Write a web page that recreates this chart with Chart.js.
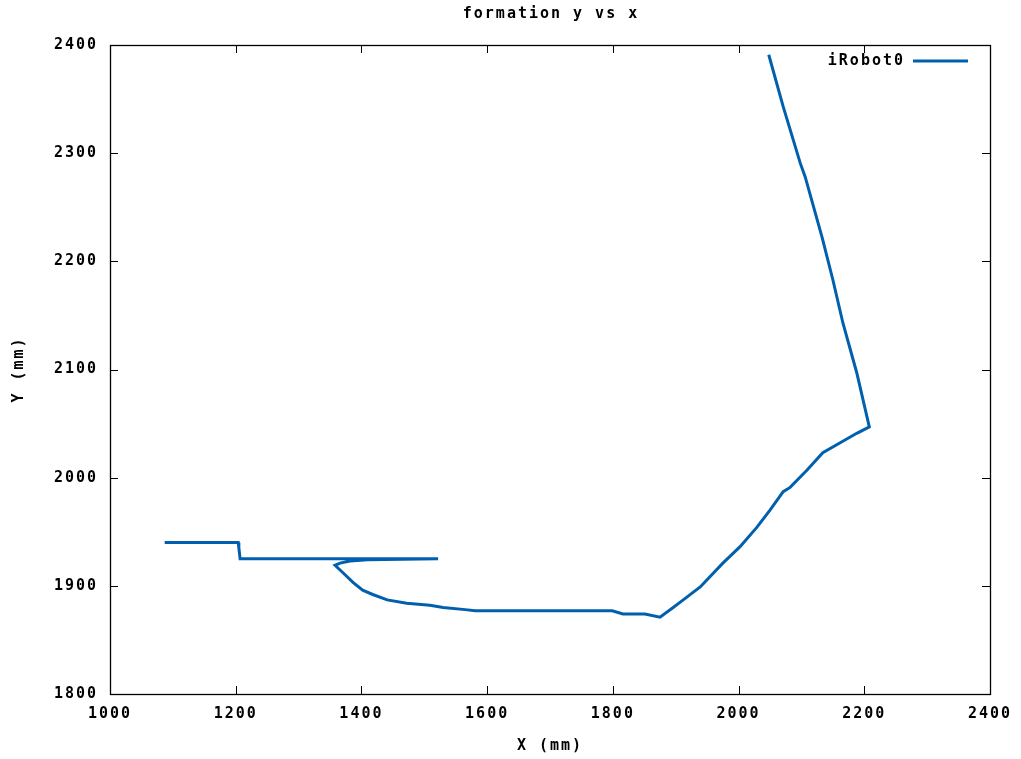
<!DOCTYPE html>
<html>
<head>
<meta charset="utf-8">
<script src="https://cdn.jsdelivr.net/npm/chart.js@4.4.1/dist/chart.umd.min.js"></script>
<style>
  html, body { margin: 0; padding: 0; background: #fff; }
  #wrap { width: 1021px; height: 759px; position: relative; }
</style>
</head>
<body>
<div id="wrap"><canvas id="c" width="1021" height="759"></canvas></div>
<script>
const chartTitle = 'formation y vs x';
const seriesName = 'iRobot0';
const xAxisTitle = 'X (mm)';
const yAxisTitle = 'Y (mm)';

const xValues = [1087, 1204, 1205, 1207, 1522, 1410, 1382, 1366, 1358, 1369, 1387, 1402, 1418, 1441, 1472, 1509, 1530, 1565, 1581, 1799, 1816, 1851, 1875, 1896, 1912, 1939, 1975, 2002, 2029, 2050, 2071, 2082, 2109, 2134, 2161, 2188, 2208, 2188, 2166, 2150, 2133, 2106, 2098, 2071, 2048];
const yValues = [1940, 1940, 1935, 1925, 1925, 1924, 1923, 1921, 1919, 1913, 1903, 1896, 1892, 1887, 1884, 1882, 1880, 1878, 1877, 1877, 1874, 1874, 1871, 1880, 1887, 1899, 1921, 1936, 1954, 1970, 1987, 1991, 2007, 2023, 2032, 2041, 2047, 2097, 2143, 2183, 2222, 2278, 2291, 2343, 2391];

const xTicks = [1000, 1200, 1400, 1600, 1800, 2000, 2200, 2400];
const yTicks = [1800, 1900, 2000, 2100, 2200, 2300, 2400];

const lineColor = '#0060ad';
const FAMILY = '"DejaVu Sans Mono", "Liberation Mono", monospace';
const FONT = { family: FAMILY, size: 15, weight: 'bold', lineHeight: 1.2 };
const SPACING = '2px';

const points = xValues.map((x, i) => ({ x: x, y: yValues[i] }));

const spacingPlugin = {
  id: 'spacing',
  beforeUpdate(chart) { try { chart.ctx.letterSpacing = SPACING; } catch (e) {} },
  beforeDraw(chart) { try { chart.ctx.letterSpacing = SPACING; } catch (e) {} }
};

const framePlugin = {
  id: 'frame',
  afterDraw(chart) {
    const { ctx, chartArea } = chart;
    const { left, right, top, bottom } = chartArea;
    const xs = chart.scales.x, ys = chart.scales.y;
    const tl = 8;
    ctx.save();
    ctx.strokeStyle = '#000';
    ctx.lineWidth = 1;
    ctx.beginPath();
    xTicks.forEach(v => {
      const p = Math.round(xs.getPixelForValue(v)) + 0.5;
      ctx.moveTo(p, bottom); ctx.lineTo(p, bottom - tl);
      ctx.moveTo(p, top); ctx.lineTo(p, top + tl);
    });
    yTicks.forEach(v => {
      const p = Math.round(ys.getPixelForValue(v)) + 0.5;
      ctx.moveTo(left, p); ctx.lineTo(left + tl, p);
      ctx.moveTo(right, p); ctx.lineTo(right - tl, p);
    });
    ctx.stroke();
    ctx.lineWidth = 1.3;
    ctx.strokeRect(Math.round(left) + 0.5, Math.round(top) + 0.5, Math.round(right - left), Math.round(bottom - top));
    ctx.letterSpacing = SPACING;
    ctx.font = 'bold 15px ' + FAMILY;
    ctx.fillStyle = '#000';
    ctx.textBaseline = 'middle';
    // title, centred over the plot area
    ctx.textAlign = 'center';
    ctx.fillText(chartTitle, (left + right) / 2 + 1, 14);
    // legend
    ctx.textAlign = 'right';
    ctx.fillText(seriesName, 905, 61);
    ctx.strokeStyle = lineColor;
    ctx.lineWidth = 3;
    ctx.beginPath();
    ctx.moveTo(913, 61); ctx.lineTo(968, 61);
    ctx.stroke();
    ctx.restore();
  }
};

new Chart(document.getElementById('c'), {
  type: 'scatter',
  data: {
    datasets: [{
      label: seriesName,
      data: points,
      showLine: true,
      borderColor: lineColor,
      backgroundColor: lineColor,
      borderWidth: 3,
      pointRadius: 0,
      pointHoverRadius: 0,
      tension: 0,
      fill: false
    }]
  },
  options: {
    responsive: false,
    animation: false,
    devicePixelRatio: 1,
    layout: { padding: { left: 0, right: 31, top: 45, bottom: 0 } },
    plugins: {
      legend: { display: false },
      tooltip: { enabled: false },
      title: { display: false }
    },
    scales: {
      x: {
        type: 'linear',
        min: 1000, max: 2400,
        afterBuildTicks: s => { s.ticks = xTicks.map(v => ({ value: v })); },
        afterFit: s => { s.height = 65; s.paddingLeft = 0; s.paddingRight = 0; },
        grid: { display: false, drawTicks: false },
        border: { display: false },
        ticks: { color: '#000', font: FONT, padding: 11, maxRotation: 0, autoSkip: false, callback: v => String(v) },
        title: { display: true, text: xAxisTitle, color: '#000', font: FONT, padding: { top: 0, bottom: 4 } }
      },
      y: {
        type: 'linear',
        min: 1800, max: 2400,
        afterBuildTicks: s => { s.ticks = yTicks.map(v => ({ value: v })); },
        afterFit: s => { s.width = 110; s.paddingTop = 0; s.paddingBottom = 0; },
        grid: { display: false, drawTicks: false },
        border: { display: false },
        ticks: { color: '#000', font: FONT, padding: 12, autoSkip: false, callback: v => String(v) },
        title: { display: true, text: yAxisTitle, color: '#000', font: FONT, padding: { top: 10, bottom: 0 } }
      }
    }
  },
  plugins: [spacingPlugin, framePlugin]
});
</script>
</body>
</html>
